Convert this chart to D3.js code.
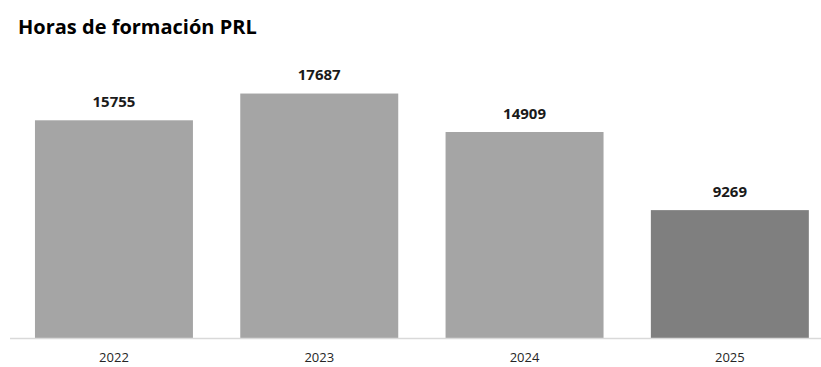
<!DOCTYPE html>
<html>
<head>
<meta charset="utf-8">
<script src="https://cdn.jsdelivr.net/npm/d3@7"></script>
<style>
  html, body { margin: 0; padding: 0; background: #ffffff; }
  svg { display: block; }
</style>
</head>
<body>
<svg id="chart" width="821" height="367"></svg>
<script>
const title = "Horas de formación PRL";
const categories = ["2022", "2023", "2024", "2025"];
const values = [15755, 17687, 14909, 9269];
const barColors = ["#a5a5a5", "#a5a5a5", "#a5a5a5", "#7f7f7f"];

const W = 821, H = 367;
const svg = d3.select("#chart");
const fontFamily = "'Open Sans', Lato, sans-serif";

const x = d3.scaleBand()
  .domain(categories)
  .range([11.3, 832.5])
  .paddingInner(0.2305)
  .paddingOuter(0.11525);

const y = d3.scaleLinear()
  .domain([0, 20000])
  .range([338.5, 61.5]);

// title
svg.append("text")
  .attr("x", 18)
  .attr("y", 33.5)
  .attr("font-family", fontFamily)
  .attr("font-weight", "bold")
  .attr("font-size", 20)
  .attr("fill", "#000000")
  .text(title);

// bars
svg.append("g").selectAll("rect")
  .data(values)
  .join("rect")
  .attr("x", (d, i) => x(categories[i]))
  .attr("y", d => y(d))
  .attr("width", x.bandwidth())
  .attr("height", d => y(0) - y(d))
  .attr("fill", (d, i) => barColors[i]);

// value labels
svg.append("g").selectAll("text")
  .data(values)
  .join("text")
  .attr("x", (d, i) => x(categories[i]) + x.bandwidth() / 2)
  .attr("y", d => y(d) - 13.5)
  .attr("text-anchor", "middle")
  .attr("font-family", fontFamily)
  .attr("font-weight", "bold")
  .attr("font-size", 15)
  .attr("fill", "#1a1a1a")
  .text(d => d);

// x axis
const axis = svg.append("g")
  .attr("transform", `translate(0,${y(0)})`)
  .call(d3.axisBottom(x).tickSize(0).tickPadding(0));
axis.select(".domain").remove();
axis.selectAll("text")
  .attr("y", 23)
  .attr("dy", null)
  .attr("font-family", fontFamily)
  .attr("font-size", 13)
  .attr("fill", "#262626");

svg.append("line")
  .attr("x1", 10)
  .attr("x2", 821)
  .attr("y1", y(0))
  .attr("y2", y(0))
  .attr("stroke", "#d9d9d9")
  .attr("stroke-width", 1.5);
</script>
</body>
</html>
